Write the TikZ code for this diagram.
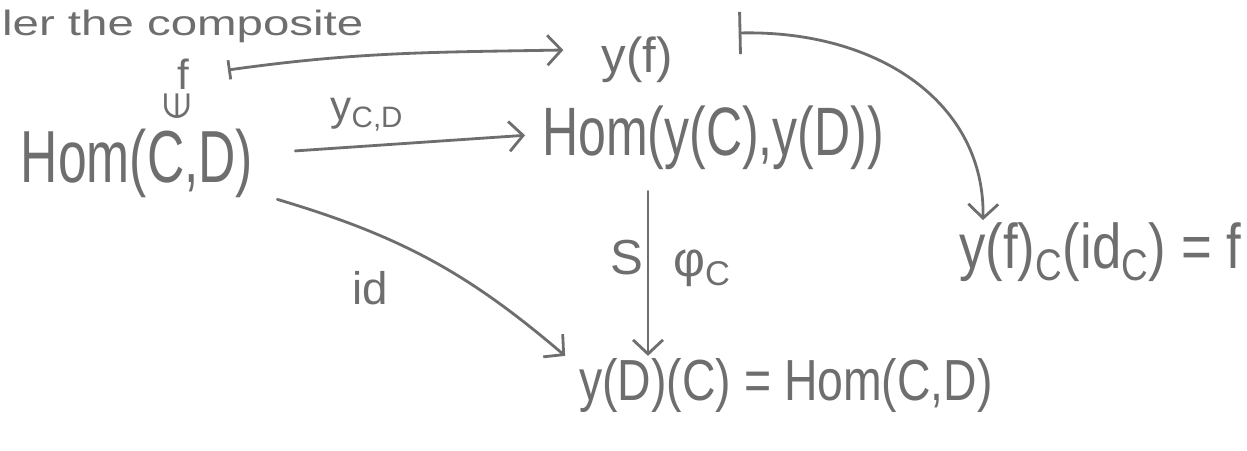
\documentclass[tikz,border=0pt]{standalone}
\usepackage{fontspec}
\setmainfont{Liberation Sans}
\newfontfamily\symfont{DejaVu Sans}
\usepackage{graphicx}
\usetikzlibrary{arrows.meta,calc}
\definecolor{ink}{RGB}{110,110,110}
\newcommand{\hw}[3]{\scalebox{#1}[#2]{#3}}
\begin{document}
\begin{tikzpicture}[x=0.02cm,y=-0.02cm,
  every node/.style={text=ink,inner sep=1pt},
  conn/.style={draw=ink,line width=1.6pt,line cap=round,line join=round},
  arr/.style={conn,-{Straight Barb[length=8pt,width=17pt,line width=1.6pt]}},
  mapsto/.style={conn,{Bar[width=11pt,line width=1.6pt]}-{Straight Barb[length=8pt,width=17pt,line width=1.6pt]}},
  longmapsto/.style={conn,{Bar[width=24pt,line width=1.6pt]}-{Straight Barb[length=8pt,width=17pt,line width=1.6pt]}}]
\useasboundingbox (0,0) rectangle (1247,450);
% nodes
\node[anchor=base west,font=\fontsize{20}{24}\selectfont] (title) at (0,35) {\hw{1.35}{1}{ler the composite}};
\node[font=\fontsize{24}{28}\selectfont] (f) at (183,74) {f};
\node[rotate=90,font=\fontsize{20}{24}\symfont] (elem) at (177,106) {∈};
\node[anchor=base,font=\fontsize{42}{48}\selectfont] (hom1) at (137,182) {\hw{0.7}{1}{Hom(C,D)}};
\node[anchor=base,font=\fontsize{39}{44}\selectfont] (hom2) at (713,155) {\hw{0.73}{1}{Hom(y(C),y(D))}};
\node[font=\fontsize{28}{32}\selectfont] (yf) at (637,60) {y(f)};
\node[anchor=base west,font=\fontsize{30}{34}\selectfont] (eval) at (957,268) {\hw{1}{1.2}{y(f)\textsubscript{C}(id\textsubscript{C}) = f}};
\node[anchor=base,font=\fontsize{33}{38}\selectfont] (bot) at (786,400) {\hw{0.8}{1}{y(D)(C) = Hom(C,D)}};
% labels
\node[font=\fontsize{24}{28}\selectfont] (lycd) at (367,115) {y\textsubscript{C,D}};
\node[font=\fontsize{28}{32}\selectfont] (liso) at (627,258) {S};
\node[font=\fontsize{28}{32}\selectfont] (lphi) at (702,268) {φ\textsubscript{C}};
\node[font=\fontsize{26}{30}\selectfont] (lid) at (370,288) {id};
% connectors
\draw[mapsto] ($(f.east)+(37,-4)$) to[out=8,in=181] ($(yf.west)+(-36,-10)$);
\draw[arr] ($(hom1.east)+(40,-12)$) -- ($(hom2.west)+(-15,-2)$);
\coordinate (vtop) at ($(hom2.south)+(-65,20)$);
\draw[arr] (vtop) -- (vtop |- bot.north);
\draw[arr] ($(hom1.south east)+(22,0)$) to[bend left=12] ($(bot.north west)+(-12,0)$);
\draw[longmapsto] ($(yf.east)+(64,-27)$) .. controls +(140,-3) and +(2,-117) .. ($(eval.north west)+(26,0)$);
\end{tikzpicture}
\end{document}
